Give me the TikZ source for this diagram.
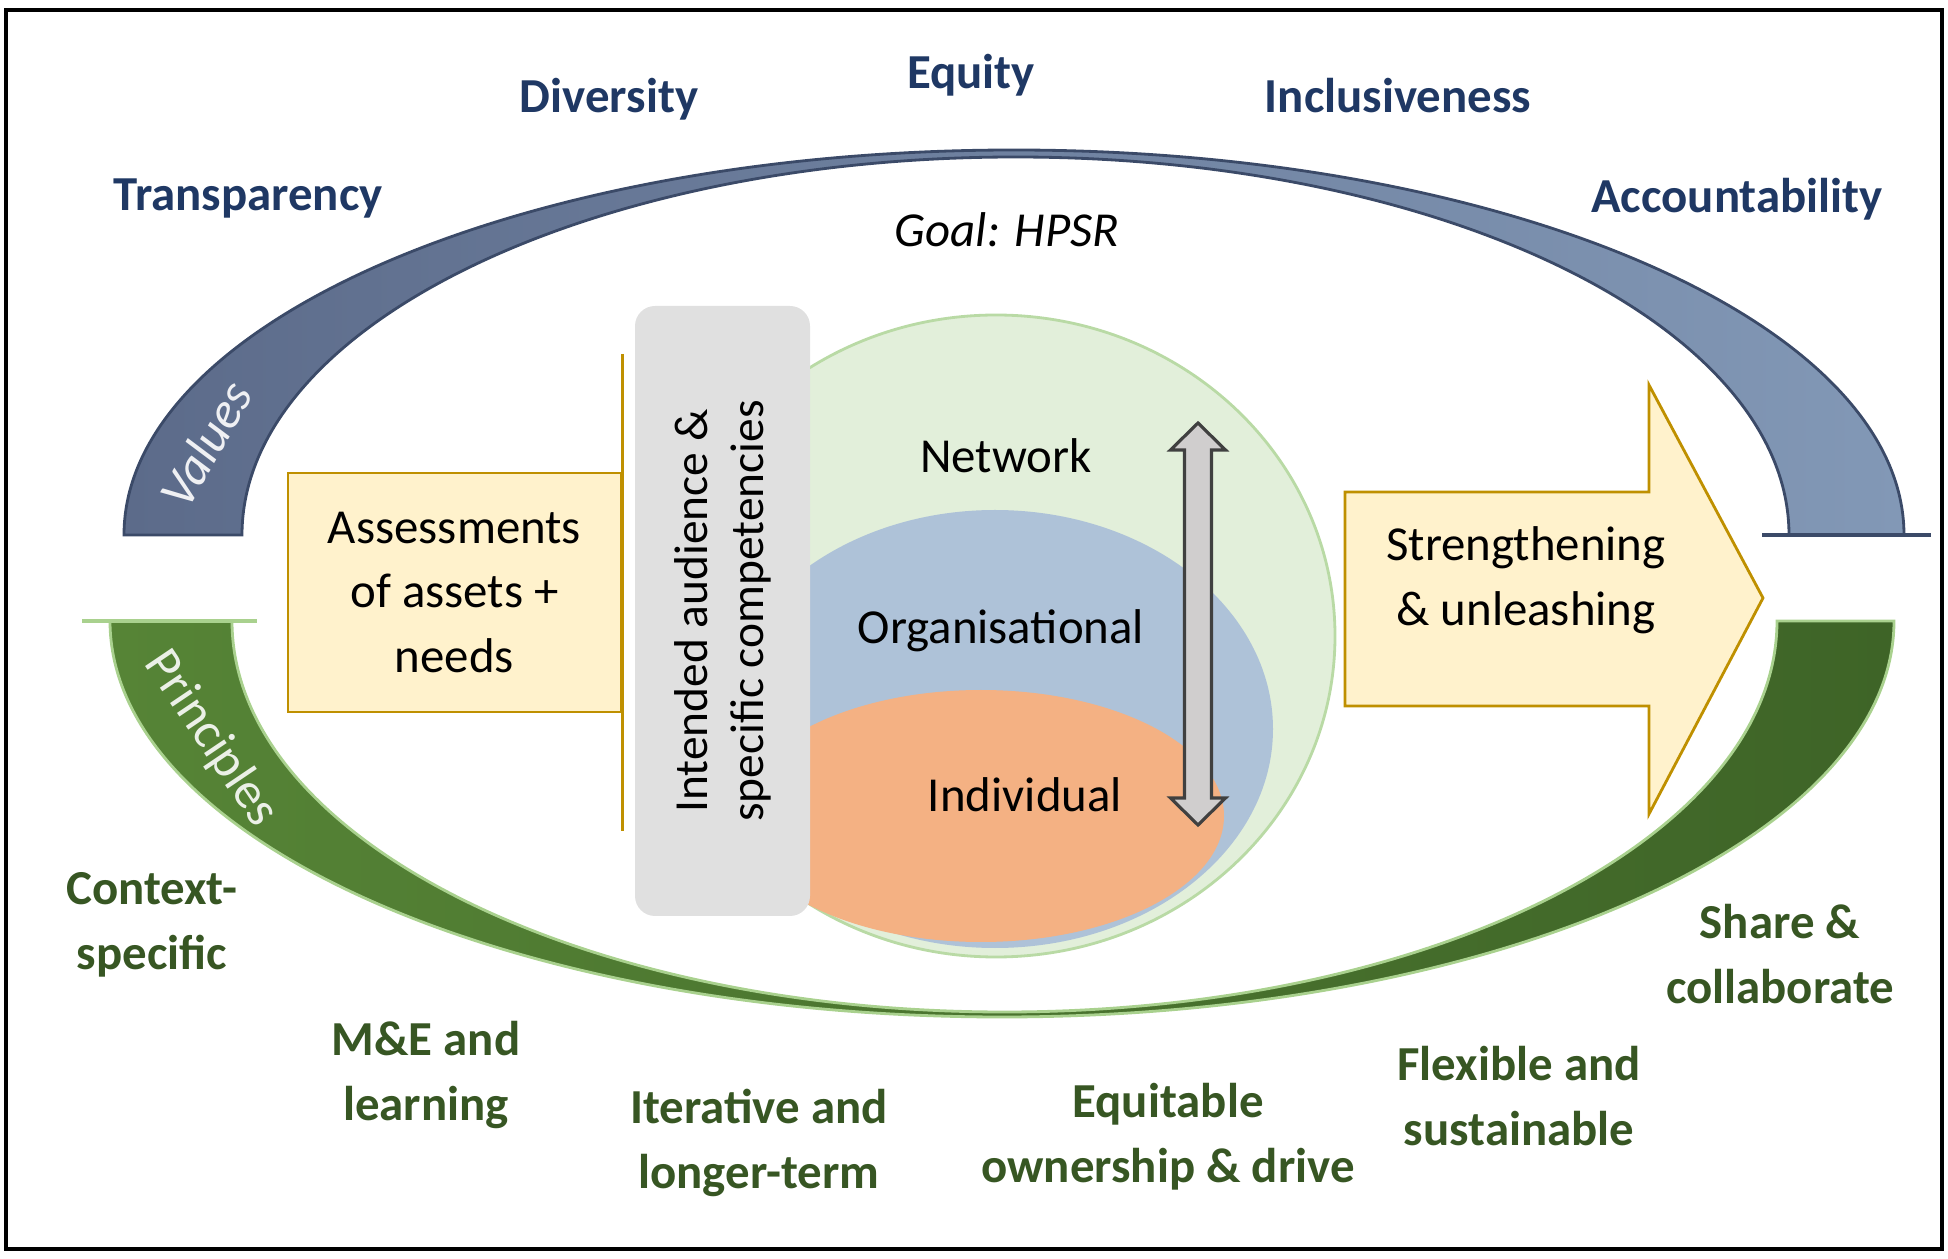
\documentclass[tikz,border=0pt]{standalone}
\usepackage{fontspec}
\setmainfont{Carlito}
\definecolor{navytext}{HTML}{1F3864}
\definecolor{greentext}{HTML}{375623}
\definecolor{valleft}{HTML}{5C6B8A}
\definecolor{valright}{HTML}{8298B6}
\definecolor{valline}{HTML}{3B4A68}
\definecolor{prinleft}{HTML}{568436}
\definecolor{prinright}{HTML}{3E6427}
\definecolor{prinline}{HTML}{A9D18E}
\definecolor{netfill}{HTML}{E2EFDA}
\definecolor{netline}{HTML}{B9DAA5}
\definecolor{orgfill}{HTML}{AEC2D8}
\definecolor{indfill}{HTML}{F4B183}
\definecolor{boxfill}{HTML}{FFF2CC}
\definecolor{boxline}{HTML}{BF9000}
\definecolor{audfill}{HTML}{E0E0E0}
\definecolor{dblfill}{HTML}{D0CECE}
\definecolor{dblline}{HTML}{404040}

\begin{document}
\begin{tikzpicture}[
  value/.style={font=\fontsize{13.9}{18.4}\selectfont\bfseries, text=navytext, align=center},
  principle/.style={font=\fontsize{13.9}{18.4}\selectfont\bfseries, text=greentext, align=center},
  plain/.style={font=\fontsize{13.9}{18.4}\selectfont, text=black, align=center},
  bandlabel/.style={font=\fontsize{14.5}{17}\selectfont, inner sep=0pt}
]
\useasboundingbox (0,0) rectangle (19.48,12.58);
\draw[line width=1pt] (0.06,0.09) rectangle (19.42,12.48);

\draw[line width=0.8pt, draw=valline, left color=valleft, right color=valright] (1.24,7.23) arc[start angle=180, end angle=0, x radius=8.90, y radius=3.85] -- (17.89,7.23) arc[start angle=0, end angle=180, x radius=7.735, y radius=3.78] -- cycle;
\draw[line width=1pt, valline] (17.62,7.23) -- (19.31,7.23);
\draw[line width=0.8pt, draw=prinline, left color=prinleft, right color=prinright] (1.10,6.37) arc[start angle=180, end angle=360, x radius=8.92, y radius=3.96] -- (17.77,6.37) arc[start angle=360, end angle=180, x radius=7.725, y radius=3.91] -- cycle;
\draw[line width=1pt, prinline] (0.82,6.37) -- (2.57,6.37);

\draw[line width=0.8pt, draw=netline, fill=netfill] (9.96,6.22) ellipse[x radius=3.39, y radius=3.21];
\fill[orgfill] (9.95,5.29) ellipse[x radius=2.78, y radius=2.19];
\fill[indfill] (9.81,4.42) ellipse[x radius=2.43, y radius=1.26];

\node[plain, rotate=90, fill=audfill, rounded corners=0.2cm, minimum width=6.10cm, minimum height=1.75cm, font=\fontsize{13.5}{16}\selectfont] (audience) at (7.225,6.47) {Intended audience \&\\specific competencies};

\node[plain, draw=boxline, line width=0.8pt, fill=boxfill, minimum width=3.33cm, minimum height=2.39cm] (assess) at (4.545,6.655) {Assessments\\of assets +\\needs};
\draw[line width=0.8pt, boxline] (assess.east |- 0,9.04) -- (assess.east |- 0,4.27);

\draw[line width=0.8pt, draw=boxline, fill=boxfill] (13.45,7.66) -- (16.49,7.66) -- (16.49,8.73) -- (17.63,6.60) -- (16.49,4.44) -- (16.49,5.52) -- (13.45,5.52) -- cycle;
\node[plain] (strength) at (15.26,6.78) {Strengthening\\\& unleashing};

\draw[line width=0.9pt, draw=dblline, fill=dblfill] (11.98,8.35) -- (12.255,8.08) -- (12.115,8.08) -- (12.115,4.60) -- (12.255,4.60) -- (11.98,4.33) -- (11.705,4.60) -- (11.845,4.60) -- (11.845,8.08) -- (11.705,8.08) -- cycle;

\node[plain] (network) at (10.06,8.02) {Network};
\node[plain] (organisational) at (10.01,6.27) {Organisational};
\node[plain] (individual) at (10.25,4.63) {Individual};

\node[plain, font=\fontsize{13.9}{18.4}\selectfont\itshape] (goal) at (10.07,10.28) {Goal: HPSR};
\node[bandlabel, text=white!90!valleft, rotate=60, font=\fontsize{14.5}{17}\selectfont\itshape] (values) at (2.06,8.14) {Values};
\node[bandlabel, text=white!88!prinleft, rotate=-56] (principles) at (2.11,5.19) {Principles};

\node[value] (transparency) at (2.48,10.59) {Transparency};
\node[value] (diversity) at (6.09,11.59) {Diversity};
\node[value] (equity) at (9.71,11.83) {Equity};
\node[value] (inclusiveness) at (13.98,11.62) {Inclusiveness};
\node[value] (accountability) at (17.37,10.59) {Accountability};

\node[principle] (context) at (1.52,3.33) {Context-\\specific};
\node[principle] (mande) at (4.26,1.83) {M\&E and\\learning};
\node[principle] (iterative) at (7.59,1.15) {Iterative and\\longer-term};
\node[principle] (equitable) at (11.68,1.21) {Equitable\\ownership \& drive};
\node[principle] (flexible) at (15.19,1.62) {Flexible and\\sustainable};
\node[principle] (share) at (17.80,3.04) {Share \&\\collaborate};
\end{tikzpicture}
\end{document}
